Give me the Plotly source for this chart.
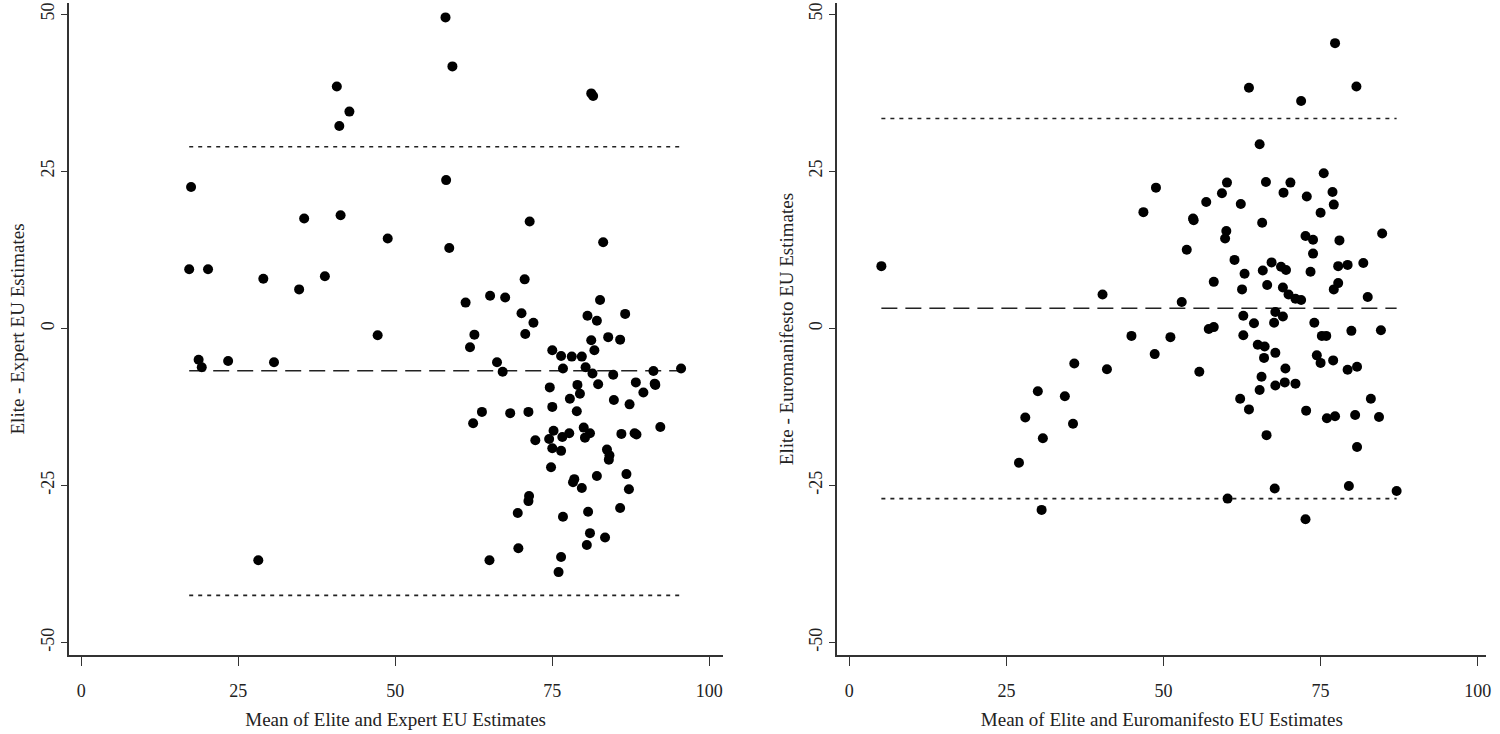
import plotly.graph_objects as go

# Left panel: Elite vs Expert (Bland-Altman)
expert_mean = [58.0, 59.1, 40.7, 42.7, 41.1, 17.5, 58.1, 35.5, 41.3, 71.4, 48.8, 58.6, 17.2, 20.2,
               29.0, 38.8, 34.7, 70.6, 61.2, 65.1, 67.5, 70.1, 72.0, 70.7, 62.6, 47.2, 61.9, 75.0,
               76.4, 18.7, 19.2, 23.4, 30.7, 66.2, 67.1, 76.7, 82.6, 80.6, 82.1, 86.6, 81.2, 83.9,
               85.8, 81.7, 78.1, 79.7, 80.3, 81.4, 84.7, 91.1, 95.5, 74.6, 79.0, 79.4, 82.3, 88.3,
               91.3, 91.4, 89.5, 77.8, 84.8, 87.3, 63.8, 62.4, 68.3, 71.2, 75.0, 78.9, 92.2, 72.3,
               75.2, 74.5, 76.6, 77.7, 80.0, 81.0, 80.2, 86.0, 88.1, 88.4, 75.0, 76.4, 83.7, 84.1,
               84.0, 74.8, 82.1, 86.8, 78.5, 78.3, 79.7, 87.2, 71.3, 71.2, 69.5, 76.7, 80.7, 85.8,
               81.0, 83.4, 80.5, 69.6, 65.0, 76.4, 76.0, 28.2, 81.2, 81.5, 83.1]
expert_diff = [49.5, 41.7, 38.5, 34.5, 32.2, 22.5, 23.6, 17.5, 18.0, 17.0, 14.3, 12.8, 9.4, 9.4,
               7.9, 8.3, 6.2, 7.8, 4.1, 5.2, 4.9, 2.4, 0.9, -0.9, -1.0, -1.1, -3.0, -3.5,
               -4.4, -5.0, -6.2, -5.2, -5.4, -5.4, -6.9, -6.4, 4.5, 2.0, 1.2, 2.3, -1.9, -1.4,
               -1.8, -3.5, -4.5, -4.5, -6.2, -7.2, -7.4, -6.8, -6.4, -9.4, -9.0, -10.4, -8.9, -8.6,
               -8.8, -9.0, -10.2, -11.2, -11.4, -12.1, -13.3, -15.1, -13.5, -13.3, -12.5, -13.2, -15.7, -17.8,
               -16.3, -17.6, -17.3, -16.7, -15.8, -16.7, -17.4, -16.8, -16.7, -16.9, -19.1, -19.5, -19.3, -20.2,
               -20.9, -22.1, -23.5, -23.2, -24.0, -24.5, -25.4, -25.6, -26.7, -27.5, -29.4, -30.0, -29.2, -28.6,
               -32.6, -33.3, -34.5, -35.0, -36.9, -36.4, -38.8, -36.9, 37.4, 37.0, 13.7]
expert_lines = {"mean": -6.76, "upper": 28.9, "lower": -42.5}

# Right panel: Elite vs Euromanifesto
euro_mean = [5.1, 27.0, 28.0, 30.0, 30.8, 30.6, 34.3, 35.6, 35.8, 40.3, 41.0, 44.9, 46.8, 48.8,
             48.6, 51.1, 52.9, 53.7, 54.7, 54.8, 55.7, 56.8, 57.2, 58.0, 58.0, 59.3, 60.1, 60.0,
             59.8, 60.2, 61.3, 62.2, 62.3, 62.5, 62.9, 62.7, 62.7, 63.6, 63.6, 64.4, 65.0, 65.3,
             65.3, 65.6, 65.7, 65.8, 66.0, 66.1, 66.3, 66.4, 66.5, 67.2, 67.6, 67.7, 67.8, 67.8,
             67.8, 69.0, 69.1, 68.7, 69.0, 69.3, 69.4, 69.5, 69.9, 70.2, 71.0, 71.0, 71.9, 71.9,
             72.6, 72.6, 72.7, 72.8, 73.4, 73.8, 73.8, 74.0, 74.4, 75.0, 75.0, 75.2, 75.5, 75.9,
             76.0, 76.9, 77.1, 77.0, 77.1, 77.3, 77.3, 77.8, 78.0, 77.8, 79.3, 79.3, 79.5, 79.9,
             80.5, 80.7, 80.8, 80.8, 81.8, 82.5, 83.0, 84.3, 84.6, 84.8, 87.1]
euro_diff = [9.9, -21.4, -14.2, -10.0, -17.5, -28.9, -10.8, -15.2, -5.6, 5.4, -6.5, -1.2, 18.5, 22.4,
             -4.1, -1.4, 4.2, 12.5, 17.5, 17.2, -6.9, 20.1, -0.1, 0.2, 7.4, 21.5, 23.2, 15.5,
             14.3, -27.1, 10.9, -11.2, 19.8, 6.2, 8.7, 2.0, -1.1, -12.9, 38.3, 0.8, -2.6, 29.3,
             -9.8, -7.7, 16.8, 9.2, -4.7, -2.9, 23.3, -17.0, 6.9, 10.5, 0.9, -25.5, -9.1, -3.9,
             2.6, 6.5, 21.6, 9.8, 1.9, -8.6, -6.4, 9.3, 5.4, 23.2, 4.7, -8.8, 4.5, 36.2,
             -30.4, 14.7, -13.1, 21.0, 9.0, 11.9, 14.1, 0.9, -4.3, 18.4, -5.5, -1.2, 24.7, -1.2,
             -14.3, 21.7, 19.7, -5.1, 6.2, 45.4, -14.0, 7.2, 14.0, 9.9, -6.6, 10.1, -25.1, -0.4,
             -13.8, 38.5, -6.1, -18.9, 10.4, 5.0, -11.2, -14.1, -0.3, 15.1, -25.9]
euro_lines = {"mean": 3.2, "upper": 33.4, "lower": -27.1}

x_ticks = [0, 25, 50, 75, 100]
x_tick_labels = ["0", "25", "50", "75", "100"]
y_ticks = [-50, -25, 0, 25, 50]
y_tick_labels = ["-50", "-25", "0", "25", "50"]
x_titles = ["Mean of Elite and Expert EU Estimates", "Mean of Elite and Euromanifesto EU Estimates"]
y_titles = ["Elite - Expert EU Estimates", "Elite - Euromanifesto EU Estimates"]

FONT = "Liberation Serif"
fig = go.Figure()

panels = [(expert_mean, expert_diff, expert_lines, "x", "y"),
          (euro_mean, euro_diff, euro_lines, "x2", "y2")]
for xs, ys, lines, xa, ya in panels:
    x0, x1 = min(xs), max(xs)
    for key, dash in (("upper", "4px,5px"), ("lower", "4px,5px"), ("mean", "16px,8px")):
        fig.add_trace(go.Scatter(x=[x0, x1], y=[lines[key]] * 2, mode="lines",
                                 line=dict(color="#222", width=1.6, dash=dash),
                                 xaxis=xa, yaxis=ya, showlegend=False, hoverinfo="skip"))
    fig.add_trace(go.Scatter(x=xs, y=ys, mode="markers",
                             marker=dict(color="black", size=10, line=dict(width=0)),
                             xaxis=xa, yaxis=ya, showlegend=False))

axis_common = dict(showgrid=False, zeroline=False, showline=True, linecolor="#333", linewidth=1.5,
                   ticks="outside", tickwidth=1.3, tickcolor="#333", ticklabeloverflow="allow",
                   tickfont=dict(family=FONT, size=18, color="#222"))
title_font = dict(family=FONT, size=19, color="#222")
x_common = dict(tickvals=x_ticks, ticktext=x_tick_labels, ticklen=9, ticklabelstandoff=10, **axis_common)
y_common = dict(tickvals=y_ticks, ticktext=y_tick_labels, ticklen=6, tickangle=-90,
                range=[-52.0, 51.8], domain=[0.1076, 0.996], **axis_common)

fig.update_layout(
    width=1500, height=734,
    margin=dict(l=0, r=0, t=0, b=0),
    plot_bgcolor="white", paper_bgcolor="white",
    font=dict(family=FONT, color="#222"),
    xaxis=dict(domain=[0.046, 0.4833], range=[-1.97, 102.1], anchor="y",
               title=dict(text=x_titles[0], font=title_font, standoff=12), **x_common),
    yaxis=dict(anchor="x", title=dict(text=y_titles[0], font=title_font, standoff=8), **y_common),
    xaxis2=dict(domain=[0.56, 0.9943], range=[-1.93, 101.4], anchor="y2",
                title=dict(text=x_titles[1], font=title_font, standoff=12), **x_common),
    yaxis2=dict(anchor="x2", title=dict(text=y_titles[1], font=title_font, standoff=8), **y_common),
)

fig.write_html("out.html", config={"displayModeBar": False},
               post_script="document.body.style.margin='0px';")
